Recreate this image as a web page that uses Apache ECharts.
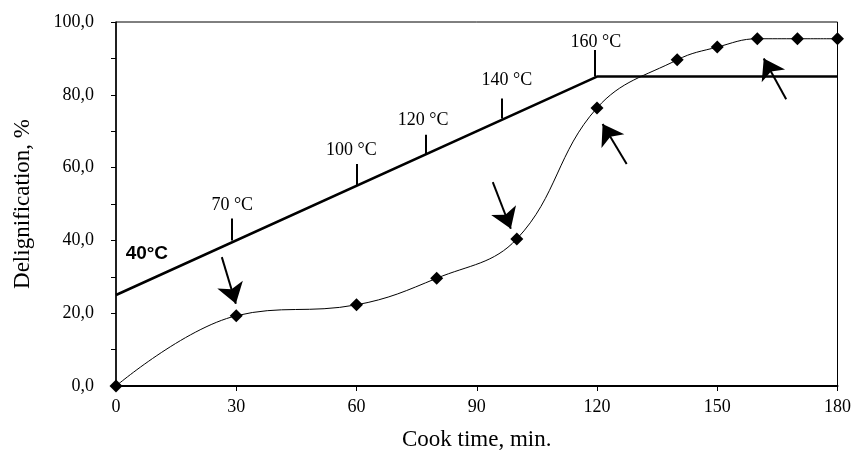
<!DOCTYPE html>
<html>
<head>
<meta charset="utf-8">
<script src="https://cdn.jsdelivr.net/npm/echarts@6/dist/echarts.min.js"></script>
<style>html,body{margin:0;padding:0;background:#fff;}#c{width:854px;height:460px;}</style>
</head>
<body>
<div id="c"></div>
<script>
// Delignification data
var cookTime = [0, 30, 60, 80, 100, 120, 140, 150, 160, 170, 180];
var delign = [0, 19.3, 22.3, 29.6, 40.4, 76.4, 89.6, 93.1, 95.4, 95.4, 95.4];
// Temperature profile line
var tempX = [0, 120, 180];
var tempY = [25, 85, 85];
// Temperature marks (vertical ticks on profile line)
var markX = [29, 60, 77.4, 96.3, 119.5];
var markBase = [40, 55, 63.7, 73.5, 85];
var markTop = [46, 61, 69, 79, 92.3];
var markLabels = ['70 °C', '100 °C', '120 °C', '140 °C', '160 °C'];
var labelX = [29, 58.7, 76.6, 97.5, 119.7];
var labelY = [49.7, 64.8, 73.1, 84.1, 94.5];
// Start label
var startLabel = '40°C';
var startLabelPos = [7.7, 36.3];
// Arrows: [x1, y1, x2(tip), y2(tip)]
var arrows = [
  [26.4, 35.4, 29.9, 22.6],
  [94.0, 56.0, 98.5, 43.2],
  [127.4, 61.0, 121.4, 72.0],
  [167.2, 78.8, 161.6, 90.0]
];
var xTicks = [0, 30, 60, 90, 120, 150, 180];
var yTicks = [0, 20, 40, 60, 80, 100];

var serif = 'Liberation Serif';
var chart = echarts.init(document.getElementById('c'));
chart.setOption({
  animation: false,
  backgroundColor: '#fff',
  grid: { left: 116, right: 15, top: 22, bottom: 74, show: true, borderColor: '#000', borderWidth: 1 },
  xAxis: {
    type: 'value', min: xTicks[0], max: xTicks[xTicks.length - 1], interval: 30,
    name: 'Cook time, min.', nameLocation: 'middle', nameGap: 42,
    nameTextStyle: { fontFamily: serif, fontSize: 23, color: '#000' },
    axisLine: { show: true, lineStyle: { color: '#000', width: 2 } },
    axisTick: { show: true, length: 5, lineStyle: { color: '#000' } },
    axisLabel: { fontFamily: serif, fontSize: 18, color: '#000', margin: 12 },
    splitLine: { show: false }
  },
  yAxis: {
    type: 'value', min: yTicks[0], max: yTicks[yTicks.length - 1], interval: 10,
    name: 'Delignification, %', nameLocation: 'middle', nameGap: 82,
    nameTextStyle: { fontFamily: serif, fontSize: 23, color: '#000' },
    axisLine: { show: true, lineStyle: { color: '#000', width: 1.5 } },
    axisTick: { show: true, length: 5, lineStyle: { color: '#000' } },
    axisLabel: {
      fontFamily: serif, fontSize: 18, color: '#000', margin: 22,
      formatter: function (v) { return yTicks.indexOf(v) >= 0 ? v.toFixed(1).replace('.', ',') : ''; }
    },
    splitLine: { show: false }
  },
  series: [
    {
      type: 'line', name: 'temp',
      data: tempX.map(function (x, i) { return [x, tempY[i]]; }),
      symbol: 'none', lineStyle: { color: '#000', width: 2.5 }, z: 3
    },
    {
      type: 'lines', coordinateSystem: 'cartesian2d', polyline: false,
      data: markX.map(function (x, i) { return { coords: [[x, markBase[i]], [x, markTop[i]]] }; }),
      lineStyle: { color: '#000', width: 2, opacity: 1 }, symbol: 'none', z: 3
    },
    {
      type: 'scatter', symbolSize: 0, itemStyle: { color: '#000', opacity: 1 },
      data: labelX.map(function (x, i) { return { value: [x, labelY[i]], name: markLabels[i] }; }),
      label: { show: true, position: 'inside', formatter: '{b}', fontFamily: serif, fontSize: 18, color: '#000', opacity: 1, textBorderWidth: 0 },
      silent: true
    },
    {
      type: 'scatter', symbolSize: 0, itemStyle: { color: '#000', opacity: 1 },
      data: [{ value: startLabelPos, name: startLabel }],
      label: { show: true, position: 'inside', formatter: '{b}', fontFamily: 'Liberation Sans', fontWeight: 'bold', fontSize: 19, color: '#000', opacity: 1, textBorderWidth: 0 },
      silent: true
    },
    {
      type: 'line', name: 'delign',
      data: cookTime.map(function (x, i) { return [x, delign[i]]; }),
      smooth: 0.4, symbol: 'diamond', symbolSize: 13, showSymbol: true,
      itemStyle: { color: '#000' }, lineStyle: { color: '#000', width: 1 }, z: 5
    },
    {
      type: 'lines', coordinateSystem: 'cartesian2d',
      data: arrows.map(function (a) { return { coords: [[a[0], a[1]], [a[2], a[3]]] }; }),
      symbol: ['none', 'arrow'], symbolSize: [16, 20],
      lineStyle: { color: '#000', width: 2, opacity: 1 }, z: 6
    }
  ]
});
</script>
</body>
</html>
